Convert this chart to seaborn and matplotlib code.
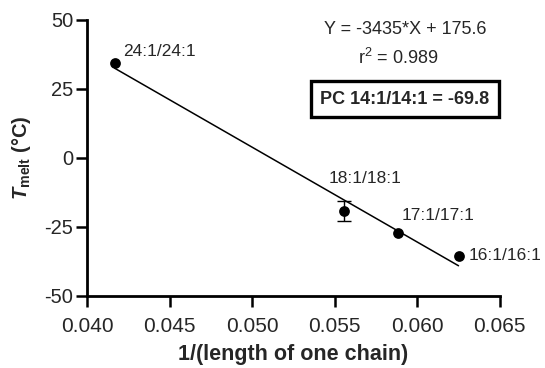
import numpy as np
import pandas as pd
import matplotlib
matplotlib.use('Agg')
import matplotlib.pyplot as plt
import seaborn as sns

# data
labels = ['24:1/24:1', '18:1/18:1', '17:1/17:1', '16:1/16:1']
chain_len = np.array([24, 18, 17, 16])
tmelt = np.array([34.3, -19.2, -27.4, -35.5])
tmelt_err = np.array([0.0, 3.5, 0.0, 0.0])
slope = -3435
intercept = 175.6
r2 = 0.989
pc14 = -69.8

x = 1.0 / chain_len
df = pd.DataFrame({'x': x, 'y': tmelt, 'label': labels})

sns.set_style('ticks')
plt.rcParams['font.family'] = ['Liberation Sans', 'DejaVu Sans']
plt.rcParams['axes.unicode_minus'] = False
plt.rcParams['mathtext.fontset'] = 'custom'
plt.rcParams['mathtext.rm'] = 'Liberation Sans'
plt.rcParams['mathtext.bf'] = 'Liberation Sans:bold'
plt.rcParams['mathtext.it'] = 'Liberation Sans:italic'
plt.rcParams['mathtext.bfit'] = 'Liberation Sans:italic:bold'

fig = plt.figure(figsize=(5.45, 3.68), dpi=100)
ax = fig.add_axes([0.16, 0.196, 0.757, 0.75])

# fitted line across the data range
xl = np.array([x.min(), x.max()])
line_df = pd.DataFrame({'x': xl, 'y': slope * xl + intercept})
sns.lineplot(data=line_df, x='x', y='y', color='black', lw=1.1, ax=ax)

ax.errorbar(x, tmelt, yerr=np.where(tmelt_err > 0, tmelt_err, np.nan),
            fmt='none', ecolor='black', elinewidth=1.0, capsize=5, capthick=1.0)
sns.scatterplot(data=df, x='x', y='y', color='black', s=60, edgecolor='black',
                linewidth=0, ax=ax, zorder=5)

offsets = [(8, 12), (-15, 32), (4, 18), (10, 0)]
for xi, yi, lab, off in zip(x, tmelt, labels, offsets):
    ax.annotate(lab, (xi, yi), xytext=off, textcoords='offset pixels',
                ha='left', va='center', fontsize=12.5)

ax.set_xlim(0.040, 0.065)
ax.set_ylim(-50, 50)
ax.set_xticks([0.040, 0.045, 0.050, 0.055, 0.060, 0.065])
ax.set_xticklabels(['0.040', '0.045', '0.050', '0.055', '0.060', '0.065'])
ax.set_yticks([-50, -25, 0, 25, 50])
ax.tick_params(width=1.8, length=8, color='black')
ax.tick_params(axis='x', labelsize=15, pad=7)
ax.tick_params(axis='y', labelsize=14.5, pad=2)

ax.set_xlabel('1/(length of one chain)', fontsize=15.5, fontweight='bold', labelpad=6)
ax.set_ylabel(r'$\mathbfit{T}_{\mathbf{melt}}$ (°C)', fontsize=14.5, fontweight='bold', labelpad=8)

sns.despine(ax=ax)
for s in ['left', 'bottom']:
    ax.spines[s].set_linewidth(2.0)
    ax.spines[s].set_color('black')

fig.text(405 / 545, 1 - 30 / 368, f'Y = {slope}*X + {intercept}', ha='center', va='center', fontsize=13)
fig.text(398 / 545, 1 - 58 / 368, f'r$^2$ = {r2}', ha='center', va='center', fontsize=13)
fig.text(405 / 545, 1 - 99 / 368, f'PC 14:1/14:1 = {pc14}', ha='center', va='center',
         fontsize=13, fontweight='bold',
         bbox=dict(boxstyle='square,pad=0.5', fc='white', ec='black', lw=2.4))

fig.savefig('out.png', dpi=100)
